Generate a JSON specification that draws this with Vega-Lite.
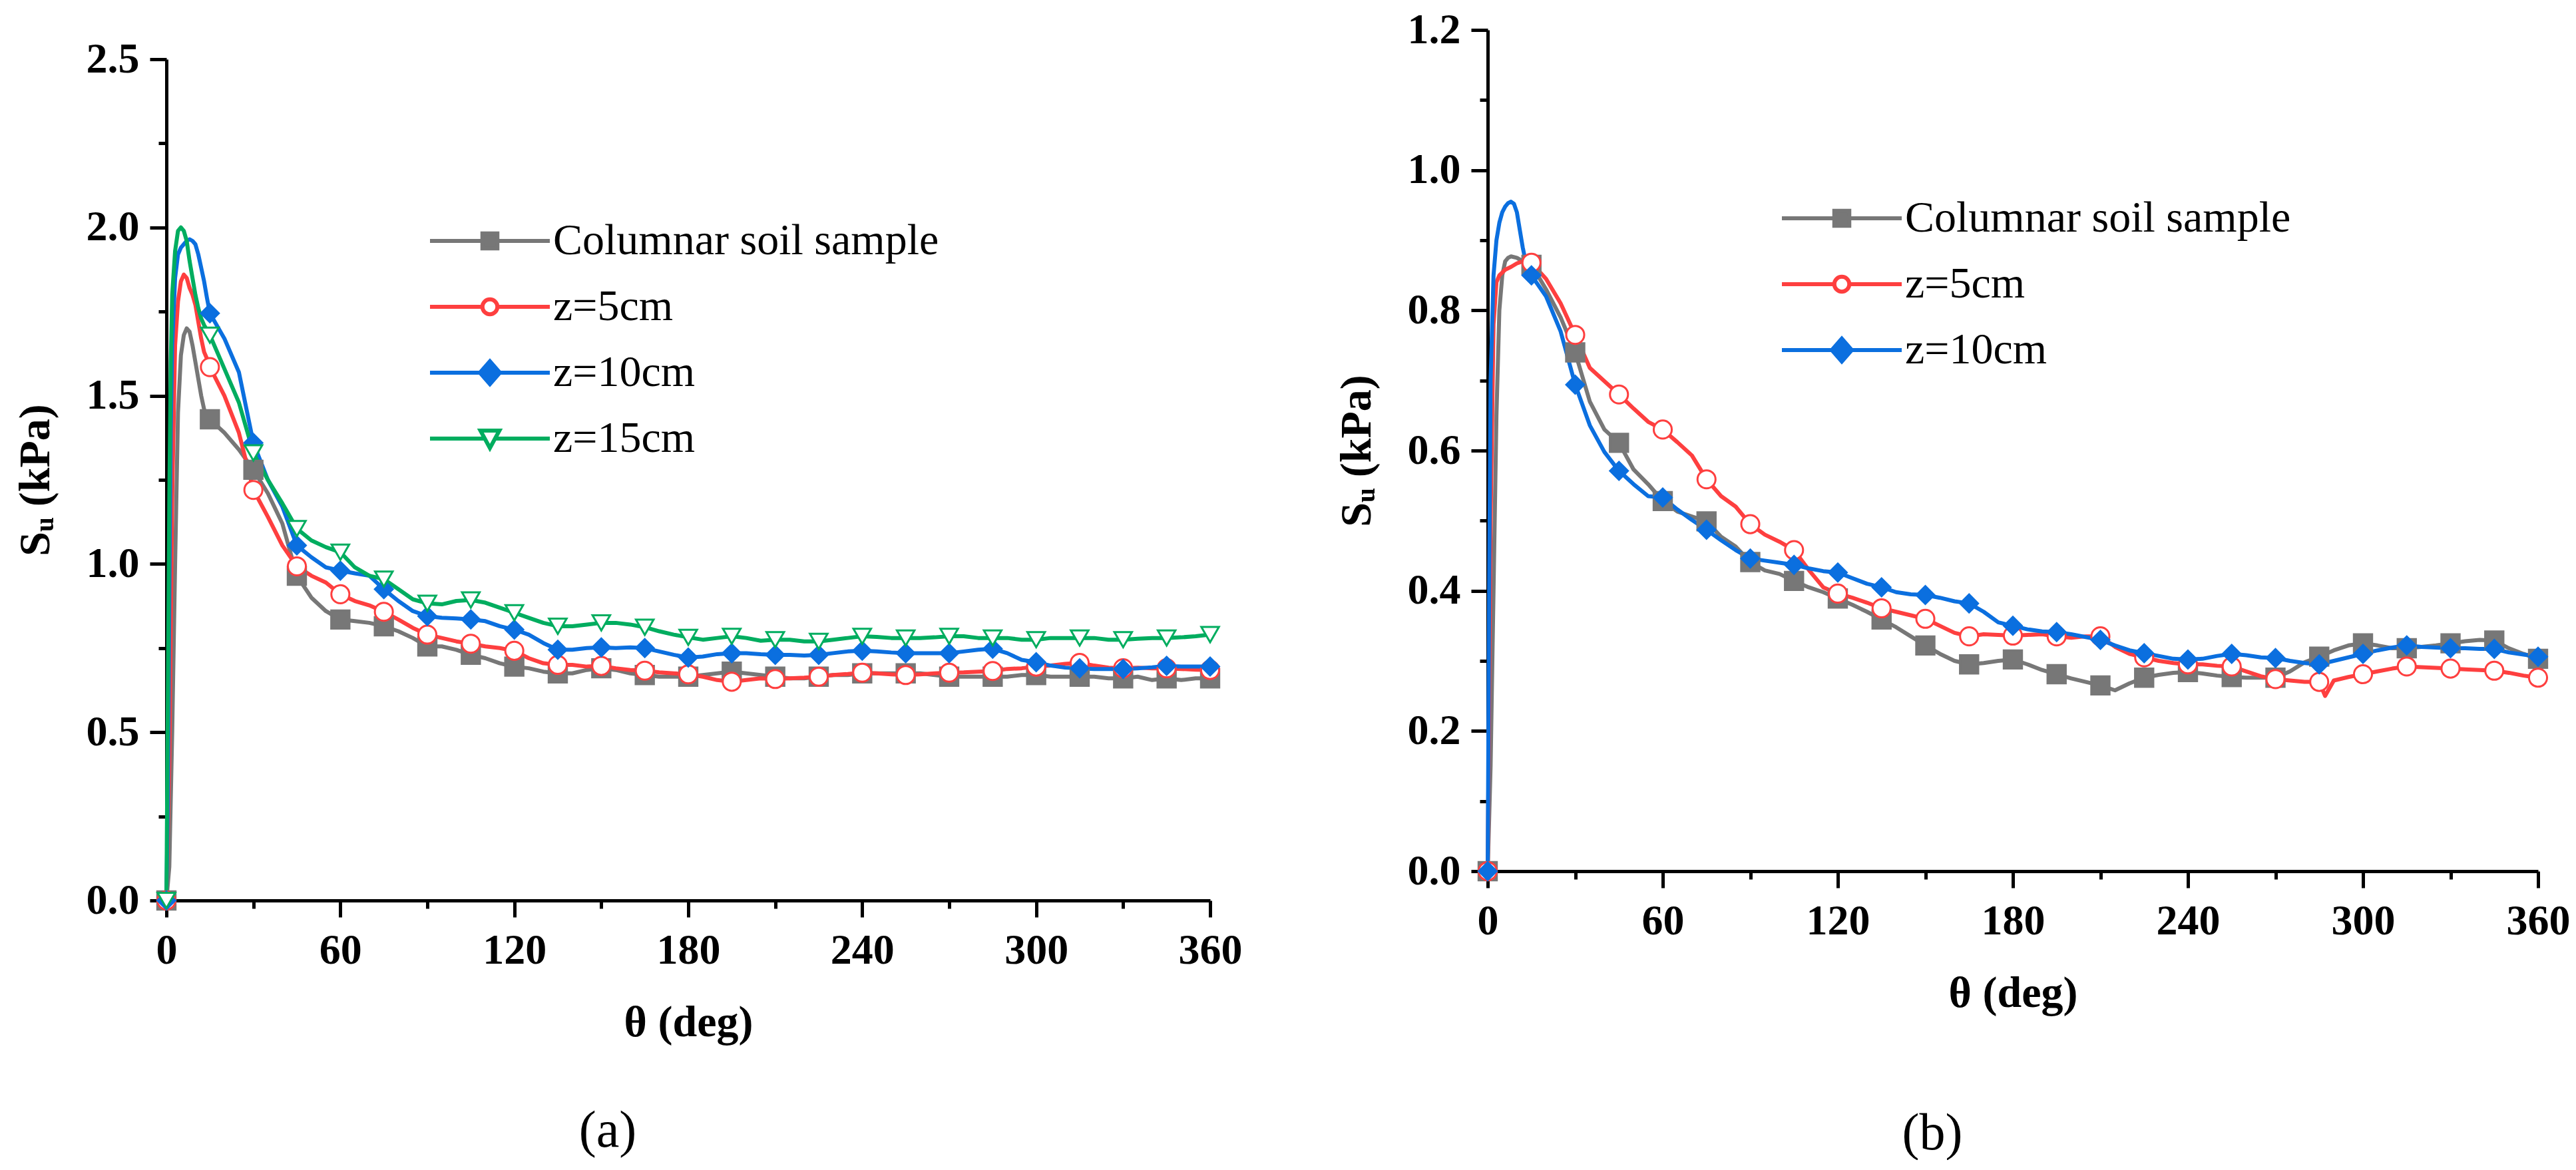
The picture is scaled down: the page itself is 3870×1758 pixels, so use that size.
{
  "$schema": "https://vega.github.io/schema/vega-lite/v6.json",
  "background": "white",
  "padding": {"left": 20, "top": 13, "right": 0, "bottom": 0},
  "spacing": 139,
  "config": {
    "font": "Liberation Serif",
    "view": {"stroke": null},
    "axis": {
      "grid": false,
      "domainColor": "black",
      "domainWidth": 5,
      "tickColor": "black",
      "tickWidth": 5,
      "labelFont": "Liberation Serif",
      "labelFontSize": 64,
      "labelFontWeight": "bold",
      "labelColor": "black",
      "labelFlush": false,
      "labelOverlap": false,
      "titleFont": "Liberation Serif",
      "titleFontSize": 66,
      "titleFontWeight": "bold",
      "titleColor": "black"
    },
    "legend": {
      "orient": "none",
      "direction": "vertical",
      "title": null,
      "labelFont": "Liberation Serif",
      "labelFontSize": 66,
      "labelFontWeight": "normal",
      "labelColor": "black",
      "labelLimit": 1200,
      "symbolSize": 900,
      "symbolStrokeWidth": 6,
      "labelOffset": 62,
      "rowPadding": 33,
      "padding": 0
    }
  },
  "datasets": {
    "curvesA": [
      {"sample": "Columnar soil sample", "theta": 0, "su": 0},
      {"sample": "Columnar soil sample", "theta": 1, "su": 0.1},
      {"sample": "Columnar soil sample", "theta": 2, "su": 0.5},
      {"sample": "Columnar soil sample", "theta": 3, "su": 1.0},
      {"sample": "Columnar soil sample", "theta": 4, "su": 1.45},
      {"sample": "Columnar soil sample", "theta": 5, "su": 1.62},
      {"sample": "Columnar soil sample", "theta": 6, "su": 1.68},
      {"sample": "Columnar soil sample", "theta": 7, "su": 1.70},
      {"sample": "Columnar soil sample", "theta": 8, "su": 1.69},
      {"sample": "Columnar soil sample", "theta": 9, "su": 1.65},
      {"sample": "Columnar soil sample", "theta": 10, "su": 1.60},
      {"sample": "Columnar soil sample", "theta": 11, "su": 1.55},
      {"sample": "Columnar soil sample", "theta": 12, "su": 1.50},
      {"sample": "Columnar soil sample", "theta": 13, "su": 1.46},
      {"sample": "Columnar soil sample", "theta": 14, "su": 1.44},
      {"sample": "Columnar soil sample", "theta": 15, "su": 1.43},
      {"sample": "Columnar soil sample", "theta": 20, "su": 1.39},
      {"sample": "Columnar soil sample", "theta": 25, "su": 1.34},
      {"sample": "Columnar soil sample", "theta": 30, "su": 1.28},
      {"sample": "Columnar soil sample", "theta": 35, "su": 1.21},
      {"sample": "Columnar soil sample", "theta": 40, "su": 1.12},
      {"sample": "Columnar soil sample", "theta": 45, "su": 0.965},
      {"sample": "Columnar soil sample", "theta": 50, "su": 0.9},
      {"sample": "Columnar soil sample", "theta": 55, "su": 0.86},
      {"sample": "Columnar soil sample", "theta": 60, "su": 0.835},
      {"sample": "Columnar soil sample", "theta": 65, "su": 0.83},
      {"sample": "Columnar soil sample", "theta": 70, "su": 0.825},
      {"sample": "Columnar soil sample", "theta": 75, "su": 0.815},
      {"sample": "Columnar soil sample", "theta": 80, "su": 0.8},
      {"sample": "Columnar soil sample", "theta": 85, "su": 0.78},
      {"sample": "Columnar soil sample", "theta": 90, "su": 0.755},
      {"sample": "Columnar soil sample", "theta": 95, "su": 0.755},
      {"sample": "Columnar soil sample", "theta": 100, "su": 0.745},
      {"sample": "Columnar soil sample", "theta": 105, "su": 0.73},
      {"sample": "Columnar soil sample", "theta": 110, "su": 0.72},
      {"sample": "Columnar soil sample", "theta": 115, "su": 0.705},
      {"sample": "Columnar soil sample", "theta": 120, "su": 0.695},
      {"sample": "Columnar soil sample", "theta": 125, "su": 0.69},
      {"sample": "Columnar soil sample", "theta": 130, "su": 0.68},
      {"sample": "Columnar soil sample", "theta": 135, "su": 0.675},
      {"sample": "Columnar soil sample", "theta": 140, "su": 0.675},
      {"sample": "Columnar soil sample", "theta": 145, "su": 0.685},
      {"sample": "Columnar soil sample", "theta": 150, "su": 0.69},
      {"sample": "Columnar soil sample", "theta": 155, "su": 0.685},
      {"sample": "Columnar soil sample", "theta": 160, "su": 0.675},
      {"sample": "Columnar soil sample", "theta": 165, "su": 0.67},
      {"sample": "Columnar soil sample", "theta": 170, "su": 0.665},
      {"sample": "Columnar soil sample", "theta": 175, "su": 0.665},
      {"sample": "Columnar soil sample", "theta": 180, "su": 0.665},
      {"sample": "Columnar soil sample", "theta": 185, "su": 0.67},
      {"sample": "Columnar soil sample", "theta": 190, "su": 0.675},
      {"sample": "Columnar soil sample", "theta": 195, "su": 0.68},
      {"sample": "Columnar soil sample", "theta": 200, "su": 0.675},
      {"sample": "Columnar soil sample", "theta": 205, "su": 0.67},
      {"sample": "Columnar soil sample", "theta": 210, "su": 0.665},
      {"sample": "Columnar soil sample", "theta": 215, "su": 0.66},
      {"sample": "Columnar soil sample", "theta": 220, "su": 0.66},
      {"sample": "Columnar soil sample", "theta": 225, "su": 0.665},
      {"sample": "Columnar soil sample", "theta": 230, "su": 0.67},
      {"sample": "Columnar soil sample", "theta": 235, "su": 0.67},
      {"sample": "Columnar soil sample", "theta": 240, "su": 0.675},
      {"sample": "Columnar soil sample", "theta": 245, "su": 0.675},
      {"sample": "Columnar soil sample", "theta": 250, "su": 0.675},
      {"sample": "Columnar soil sample", "theta": 255, "su": 0.675},
      {"sample": "Columnar soil sample", "theta": 260, "su": 0.675},
      {"sample": "Columnar soil sample", "theta": 265, "su": 0.67},
      {"sample": "Columnar soil sample", "theta": 270, "su": 0.665},
      {"sample": "Columnar soil sample", "theta": 275, "su": 0.665},
      {"sample": "Columnar soil sample", "theta": 280, "su": 0.665},
      {"sample": "Columnar soil sample", "theta": 285, "su": 0.665},
      {"sample": "Columnar soil sample", "theta": 290, "su": 0.665},
      {"sample": "Columnar soil sample", "theta": 295, "su": 0.67},
      {"sample": "Columnar soil sample", "theta": 300, "su": 0.67},
      {"sample": "Columnar soil sample", "theta": 305, "su": 0.665},
      {"sample": "Columnar soil sample", "theta": 310, "su": 0.665},
      {"sample": "Columnar soil sample", "theta": 315, "su": 0.665},
      {"sample": "Columnar soil sample", "theta": 320, "su": 0.665},
      {"sample": "Columnar soil sample", "theta": 325, "su": 0.66},
      {"sample": "Columnar soil sample", "theta": 330, "su": 0.66},
      {"sample": "Columnar soil sample", "theta": 335, "su": 0.665},
      {"sample": "Columnar soil sample", "theta": 340, "su": 0.655},
      {"sample": "Columnar soil sample", "theta": 345, "su": 0.66},
      {"sample": "Columnar soil sample", "theta": 350, "su": 0.655},
      {"sample": "Columnar soil sample", "theta": 355, "su": 0.66},
      {"sample": "Columnar soil sample", "theta": 360, "su": 0.66},
      {"sample": "z=5cm", "theta": 0, "su": 0},
      {"sample": "z=5cm", "theta": 1, "su": 0.4},
      {"sample": "z=5cm", "theta": 2, "su": 1.2},
      {"sample": "z=5cm", "theta": 3, "su": 1.65},
      {"sample": "z=5cm", "theta": 4, "su": 1.78},
      {"sample": "z=5cm", "theta": 5, "su": 1.84},
      {"sample": "z=5cm", "theta": 6, "su": 1.86},
      {"sample": "z=5cm", "theta": 7, "su": 1.85},
      {"sample": "z=5cm", "theta": 8, "su": 1.82},
      {"sample": "z=5cm", "theta": 9, "su": 1.8},
      {"sample": "z=5cm", "theta": 10, "su": 1.77},
      {"sample": "z=5cm", "theta": 11, "su": 1.72},
      {"sample": "z=5cm", "theta": 12, "su": 1.67},
      {"sample": "z=5cm", "theta": 13, "su": 1.63},
      {"sample": "z=5cm", "theta": 14, "su": 1.61},
      {"sample": "z=5cm", "theta": 15, "su": 1.585},
      {"sample": "z=5cm", "theta": 20, "su": 1.5},
      {"sample": "z=5cm", "theta": 25, "su": 1.39},
      {"sample": "z=5cm", "theta": 30, "su": 1.22},
      {"sample": "z=5cm", "theta": 35, "su": 1.14},
      {"sample": "z=5cm", "theta": 40, "su": 1.055},
      {"sample": "z=5cm", "theta": 45, "su": 0.993},
      {"sample": "z=5cm", "theta": 50, "su": 0.965},
      {"sample": "z=5cm", "theta": 55, "su": 0.945},
      {"sample": "z=5cm", "theta": 60, "su": 0.91},
      {"sample": "z=5cm", "theta": 65, "su": 0.89},
      {"sample": "z=5cm", "theta": 70, "su": 0.877},
      {"sample": "z=5cm", "theta": 75, "su": 0.858},
      {"sample": "z=5cm", "theta": 80, "su": 0.835},
      {"sample": "z=5cm", "theta": 85, "su": 0.81},
      {"sample": "z=5cm", "theta": 90, "su": 0.79},
      {"sample": "z=5cm", "theta": 95, "su": 0.78},
      {"sample": "z=5cm", "theta": 100, "su": 0.77},
      {"sample": "z=5cm", "theta": 105, "su": 0.763},
      {"sample": "z=5cm", "theta": 110, "su": 0.755},
      {"sample": "z=5cm", "theta": 115, "su": 0.75},
      {"sample": "z=5cm", "theta": 120, "su": 0.742},
      {"sample": "z=5cm", "theta": 125, "su": 0.72},
      {"sample": "z=5cm", "theta": 130, "su": 0.705},
      {"sample": "z=5cm", "theta": 135, "su": 0.7},
      {"sample": "z=5cm", "theta": 140, "su": 0.7},
      {"sample": "z=5cm", "theta": 145, "su": 0.695},
      {"sample": "z=5cm", "theta": 150, "su": 0.697},
      {"sample": "z=5cm", "theta": 155, "su": 0.69},
      {"sample": "z=5cm", "theta": 160, "su": 0.685},
      {"sample": "z=5cm", "theta": 165, "su": 0.683},
      {"sample": "z=5cm", "theta": 170, "su": 0.678},
      {"sample": "z=5cm", "theta": 175, "su": 0.675},
      {"sample": "z=5cm", "theta": 180, "su": 0.672},
      {"sample": "z=5cm", "theta": 185, "su": 0.665},
      {"sample": "z=5cm", "theta": 190, "su": 0.655},
      {"sample": "z=5cm", "theta": 195, "su": 0.65},
      {"sample": "z=5cm", "theta": 200, "su": 0.655},
      {"sample": "z=5cm", "theta": 205, "su": 0.66},
      {"sample": "z=5cm", "theta": 210, "su": 0.658},
      {"sample": "z=5cm", "theta": 215, "su": 0.66},
      {"sample": "z=5cm", "theta": 220, "su": 0.662},
      {"sample": "z=5cm", "theta": 225, "su": 0.665},
      {"sample": "z=5cm", "theta": 230, "su": 0.67},
      {"sample": "z=5cm", "theta": 235, "su": 0.673},
      {"sample": "z=5cm", "theta": 240, "su": 0.677},
      {"sample": "z=5cm", "theta": 245, "su": 0.675},
      {"sample": "z=5cm", "theta": 250, "su": 0.672},
      {"sample": "z=5cm", "theta": 255, "su": 0.67},
      {"sample": "z=5cm", "theta": 260, "su": 0.672},
      {"sample": "z=5cm", "theta": 265, "su": 0.675},
      {"sample": "z=5cm", "theta": 270, "su": 0.677},
      {"sample": "z=5cm", "theta": 275, "su": 0.678},
      {"sample": "z=5cm", "theta": 280, "su": 0.68},
      {"sample": "z=5cm", "theta": 285, "su": 0.682},
      {"sample": "z=5cm", "theta": 290, "su": 0.688},
      {"sample": "z=5cm", "theta": 295, "su": 0.69},
      {"sample": "z=5cm", "theta": 300, "su": 0.695},
      {"sample": "z=5cm", "theta": 305, "su": 0.698},
      {"sample": "z=5cm", "theta": 310, "su": 0.703},
      {"sample": "z=5cm", "theta": 315, "su": 0.706},
      {"sample": "z=5cm", "theta": 320, "su": 0.698},
      {"sample": "z=5cm", "theta": 325, "su": 0.692},
      {"sample": "z=5cm", "theta": 330, "su": 0.69},
      {"sample": "z=5cm", "theta": 335, "su": 0.692},
      {"sample": "z=5cm", "theta": 340, "su": 0.69},
      {"sample": "z=5cm", "theta": 345, "su": 0.69},
      {"sample": "z=5cm", "theta": 350, "su": 0.688},
      {"sample": "z=5cm", "theta": 355, "su": 0.686},
      {"sample": "z=5cm", "theta": 360, "su": 0.685},
      {"sample": "z=10cm", "theta": 0, "su": 0},
      {"sample": "z=10cm", "theta": 0.5, "su": 0.3},
      {"sample": "z=10cm", "theta": 1, "su": 0.9},
      {"sample": "z=10cm", "theta": 1.5, "su": 1.4},
      {"sample": "z=10cm", "theta": 2, "su": 1.65},
      {"sample": "z=10cm", "theta": 3, "su": 1.85},
      {"sample": "z=10cm", "theta": 4, "su": 1.92},
      {"sample": "z=10cm", "theta": 5, "su": 1.94},
      {"sample": "z=10cm", "theta": 6, "su": 1.95},
      {"sample": "z=10cm", "theta": 7, "su": 1.96},
      {"sample": "z=10cm", "theta": 8, "su": 1.965},
      {"sample": "z=10cm", "theta": 9, "su": 1.96},
      {"sample": "z=10cm", "theta": 10, "su": 1.95},
      {"sample": "z=10cm", "theta": 11, "su": 1.92},
      {"sample": "z=10cm", "theta": 12, "su": 1.88},
      {"sample": "z=10cm", "theta": 13, "su": 1.84},
      {"sample": "z=10cm", "theta": 14, "su": 1.79},
      {"sample": "z=10cm", "theta": 15, "su": 1.745},
      {"sample": "z=10cm", "theta": 20, "su": 1.67},
      {"sample": "z=10cm", "theta": 25, "su": 1.57},
      {"sample": "z=10cm", "theta": 30, "su": 1.36},
      {"sample": "z=10cm", "theta": 35, "su": 1.25},
      {"sample": "z=10cm", "theta": 40, "su": 1.17},
      {"sample": "z=10cm", "theta": 45, "su": 1.055},
      {"sample": "z=10cm", "theta": 50, "su": 1.02},
      {"sample": "z=10cm", "theta": 55, "su": 0.99},
      {"sample": "z=10cm", "theta": 60, "su": 0.98},
      {"sample": "z=10cm", "theta": 65, "su": 0.972},
      {"sample": "z=10cm", "theta": 70, "su": 0.965},
      {"sample": "z=10cm", "theta": 75, "su": 0.925},
      {"sample": "z=10cm", "theta": 80, "su": 0.89},
      {"sample": "z=10cm", "theta": 85, "su": 0.86},
      {"sample": "z=10cm", "theta": 90, "su": 0.845},
      {"sample": "z=10cm", "theta": 95, "su": 0.84},
      {"sample": "z=10cm", "theta": 100, "su": 0.838},
      {"sample": "z=10cm", "theta": 105, "su": 0.835},
      {"sample": "z=10cm", "theta": 110, "su": 0.83},
      {"sample": "z=10cm", "theta": 115, "su": 0.815},
      {"sample": "z=10cm", "theta": 120, "su": 0.805},
      {"sample": "z=10cm", "theta": 125, "su": 0.79},
      {"sample": "z=10cm", "theta": 130, "su": 0.765},
      {"sample": "z=10cm", "theta": 135, "su": 0.745},
      {"sample": "z=10cm", "theta": 140, "su": 0.745},
      {"sample": "z=10cm", "theta": 145, "su": 0.75},
      {"sample": "z=10cm", "theta": 150, "su": 0.752},
      {"sample": "z=10cm", "theta": 155, "su": 0.75},
      {"sample": "z=10cm", "theta": 160, "su": 0.752},
      {"sample": "z=10cm", "theta": 165, "su": 0.75},
      {"sample": "z=10cm", "theta": 170, "su": 0.74},
      {"sample": "z=10cm", "theta": 175, "su": 0.73},
      {"sample": "z=10cm", "theta": 180, "su": 0.722},
      {"sample": "z=10cm", "theta": 185, "su": 0.725},
      {"sample": "z=10cm", "theta": 190, "su": 0.732},
      {"sample": "z=10cm", "theta": 195, "su": 0.735},
      {"sample": "z=10cm", "theta": 200, "su": 0.735},
      {"sample": "z=10cm", "theta": 205, "su": 0.732},
      {"sample": "z=10cm", "theta": 210, "su": 0.73},
      {"sample": "z=10cm", "theta": 215, "su": 0.73},
      {"sample": "z=10cm", "theta": 220, "su": 0.728},
      {"sample": "z=10cm", "theta": 225, "su": 0.73},
      {"sample": "z=10cm", "theta": 230, "su": 0.735},
      {"sample": "z=10cm", "theta": 235, "su": 0.74},
      {"sample": "z=10cm", "theta": 240, "su": 0.742},
      {"sample": "z=10cm", "theta": 245, "su": 0.74},
      {"sample": "z=10cm", "theta": 250, "su": 0.737},
      {"sample": "z=10cm", "theta": 255, "su": 0.735},
      {"sample": "z=10cm", "theta": 260, "su": 0.735},
      {"sample": "z=10cm", "theta": 265, "su": 0.735},
      {"sample": "z=10cm", "theta": 270, "su": 0.735},
      {"sample": "z=10cm", "theta": 275, "su": 0.74},
      {"sample": "z=10cm", "theta": 280, "su": 0.745},
      {"sample": "z=10cm", "theta": 285, "su": 0.748},
      {"sample": "z=10cm", "theta": 290, "su": 0.735},
      {"sample": "z=10cm", "theta": 295, "su": 0.715},
      {"sample": "z=10cm", "theta": 300, "su": 0.708},
      {"sample": "z=10cm", "theta": 305, "su": 0.698},
      {"sample": "z=10cm", "theta": 310, "su": 0.692},
      {"sample": "z=10cm", "theta": 315, "su": 0.69},
      {"sample": "z=10cm", "theta": 320, "su": 0.688},
      {"sample": "z=10cm", "theta": 325, "su": 0.688},
      {"sample": "z=10cm", "theta": 330, "su": 0.688},
      {"sample": "z=10cm", "theta": 335, "su": 0.69},
      {"sample": "z=10cm", "theta": 340, "su": 0.693},
      {"sample": "z=10cm", "theta": 345, "su": 0.697},
      {"sample": "z=10cm", "theta": 350, "su": 0.695},
      {"sample": "z=10cm", "theta": 355, "su": 0.695},
      {"sample": "z=10cm", "theta": 360, "su": 0.695},
      {"sample": "z=15cm", "theta": 0, "su": 0},
      {"sample": "z=15cm", "theta": 0.5, "su": 0.6},
      {"sample": "z=15cm", "theta": 1, "su": 1.2},
      {"sample": "z=15cm", "theta": 1.5, "su": 1.6},
      {"sample": "z=15cm", "theta": 2, "su": 1.8},
      {"sample": "z=15cm", "theta": 3, "su": 1.93},
      {"sample": "z=15cm", "theta": 4, "su": 1.99},
      {"sample": "z=15cm", "theta": 5, "su": 2.0},
      {"sample": "z=15cm", "theta": 6, "su": 1.99},
      {"sample": "z=15cm", "theta": 7, "su": 1.96},
      {"sample": "z=15cm", "theta": 8, "su": 1.9},
      {"sample": "z=15cm", "theta": 9, "su": 1.85},
      {"sample": "z=15cm", "theta": 10, "su": 1.8},
      {"sample": "z=15cm", "theta": 11, "su": 1.76},
      {"sample": "z=15cm", "theta": 12, "su": 1.73},
      {"sample": "z=15cm", "theta": 13, "su": 1.71},
      {"sample": "z=15cm", "theta": 14, "su": 1.695},
      {"sample": "z=15cm", "theta": 15, "su": 1.68},
      {"sample": "z=15cm", "theta": 20, "su": 1.58},
      {"sample": "z=15cm", "theta": 25, "su": 1.48},
      {"sample": "z=15cm", "theta": 30, "su": 1.33},
      {"sample": "z=15cm", "theta": 35, "su": 1.25},
      {"sample": "z=15cm", "theta": 40, "su": 1.18},
      {"sample": "z=15cm", "theta": 45, "su": 1.105},
      {"sample": "z=15cm", "theta": 50, "su": 1.07},
      {"sample": "z=15cm", "theta": 55, "su": 1.05},
      {"sample": "z=15cm", "theta": 60, "su": 1.035},
      {"sample": "z=15cm", "theta": 65, "su": 0.99},
      {"sample": "z=15cm", "theta": 70, "su": 0.965},
      {"sample": "z=15cm", "theta": 75, "su": 0.955},
      {"sample": "z=15cm", "theta": 80, "su": 0.925},
      {"sample": "z=15cm", "theta": 85, "su": 0.895},
      {"sample": "z=15cm", "theta": 90, "su": 0.883},
      {"sample": "z=15cm", "theta": 95, "su": 0.88},
      {"sample": "z=15cm", "theta": 100, "su": 0.89},
      {"sample": "z=15cm", "theta": 105, "su": 0.893},
      {"sample": "z=15cm", "theta": 110, "su": 0.885},
      {"sample": "z=15cm", "theta": 115, "su": 0.87},
      {"sample": "z=15cm", "theta": 120, "su": 0.855},
      {"sample": "z=15cm", "theta": 125, "su": 0.84},
      {"sample": "z=15cm", "theta": 130, "su": 0.825},
      {"sample": "z=15cm", "theta": 135, "su": 0.815},
      {"sample": "z=15cm", "theta": 140, "su": 0.815},
      {"sample": "z=15cm", "theta": 145, "su": 0.82},
      {"sample": "z=15cm", "theta": 150, "su": 0.825},
      {"sample": "z=15cm", "theta": 155, "su": 0.825},
      {"sample": "z=15cm", "theta": 160, "su": 0.82},
      {"sample": "z=15cm", "theta": 165, "su": 0.812},
      {"sample": "z=15cm", "theta": 170, "su": 0.8},
      {"sample": "z=15cm", "theta": 175, "su": 0.79},
      {"sample": "z=15cm", "theta": 180, "su": 0.782},
      {"sample": "z=15cm", "theta": 185, "su": 0.775},
      {"sample": "z=15cm", "theta": 190, "su": 0.78},
      {"sample": "z=15cm", "theta": 195, "su": 0.785},
      {"sample": "z=15cm", "theta": 200, "su": 0.78},
      {"sample": "z=15cm", "theta": 205, "su": 0.772},
      {"sample": "z=15cm", "theta": 210, "su": 0.775},
      {"sample": "z=15cm", "theta": 215, "su": 0.775},
      {"sample": "z=15cm", "theta": 220, "su": 0.77},
      {"sample": "z=15cm", "theta": 225, "su": 0.77},
      {"sample": "z=15cm", "theta": 230, "su": 0.775},
      {"sample": "z=15cm", "theta": 235, "su": 0.78},
      {"sample": "z=15cm", "theta": 240, "su": 0.785},
      {"sample": "z=15cm", "theta": 245, "su": 0.783},
      {"sample": "z=15cm", "theta": 250, "su": 0.78},
      {"sample": "z=15cm", "theta": 255, "su": 0.78},
      {"sample": "z=15cm", "theta": 260, "su": 0.78},
      {"sample": "z=15cm", "theta": 265, "su": 0.782},
      {"sample": "z=15cm", "theta": 270, "su": 0.785},
      {"sample": "z=15cm", "theta": 275, "su": 0.785},
      {"sample": "z=15cm", "theta": 280, "su": 0.78},
      {"sample": "z=15cm", "theta": 285, "su": 0.78},
      {"sample": "z=15cm", "theta": 290, "su": 0.78},
      {"sample": "z=15cm", "theta": 295, "su": 0.775},
      {"sample": "z=15cm", "theta": 300, "su": 0.775},
      {"sample": "z=15cm", "theta": 305, "su": 0.78},
      {"sample": "z=15cm", "theta": 310, "su": 0.78},
      {"sample": "z=15cm", "theta": 315, "su": 0.78},
      {"sample": "z=15cm", "theta": 320, "su": 0.78},
      {"sample": "z=15cm", "theta": 325, "su": 0.775},
      {"sample": "z=15cm", "theta": 330, "su": 0.775},
      {"sample": "z=15cm", "theta": 335, "su": 0.778},
      {"sample": "z=15cm", "theta": 340, "su": 0.78},
      {"sample": "z=15cm", "theta": 345, "su": 0.78},
      {"sample": "z=15cm", "theta": 350, "su": 0.782},
      {"sample": "z=15cm", "theta": 355, "su": 0.785},
      {"sample": "z=15cm", "theta": 360, "su": 0.79}
    ],
    "curvesB": [
      {"sample": "Columnar soil sample", "theta": 0, "su": 0},
      {"sample": "Columnar soil sample", "theta": 1, "su": 0.15},
      {"sample": "Columnar soil sample", "theta": 2, "su": 0.4},
      {"sample": "Columnar soil sample", "theta": 3, "su": 0.65},
      {"sample": "Columnar soil sample", "theta": 4, "su": 0.8},
      {"sample": "Columnar soil sample", "theta": 5, "su": 0.85},
      {"sample": "Columnar soil sample", "theta": 6, "su": 0.87},
      {"sample": "Columnar soil sample", "theta": 7, "su": 0.875},
      {"sample": "Columnar soil sample", "theta": 8, "su": 0.877},
      {"sample": "Columnar soil sample", "theta": 10, "su": 0.875},
      {"sample": "Columnar soil sample", "theta": 12, "su": 0.87},
      {"sample": "Columnar soil sample", "theta": 15, "su": 0.865},
      {"sample": "Columnar soil sample", "theta": 20, "su": 0.83},
      {"sample": "Columnar soil sample", "theta": 25, "su": 0.79},
      {"sample": "Columnar soil sample", "theta": 30, "su": 0.74},
      {"sample": "Columnar soil sample", "theta": 35, "su": 0.67},
      {"sample": "Columnar soil sample", "theta": 40, "su": 0.63},
      {"sample": "Columnar soil sample", "theta": 45, "su": 0.611},
      {"sample": "Columnar soil sample", "theta": 50, "su": 0.573},
      {"sample": "Columnar soil sample", "theta": 55, "su": 0.552},
      {"sample": "Columnar soil sample", "theta": 60, "su": 0.528},
      {"sample": "Columnar soil sample", "theta": 65, "su": 0.513},
      {"sample": "Columnar soil sample", "theta": 70, "su": 0.506},
      {"sample": "Columnar soil sample", "theta": 75, "su": 0.499},
      {"sample": "Columnar soil sample", "theta": 80, "su": 0.477},
      {"sample": "Columnar soil sample", "theta": 85, "su": 0.463},
      {"sample": "Columnar soil sample", "theta": 90, "su": 0.441},
      {"sample": "Columnar soil sample", "theta": 95, "su": 0.429},
      {"sample": "Columnar soil sample", "theta": 100, "su": 0.424},
      {"sample": "Columnar soil sample", "theta": 105, "su": 0.414},
      {"sample": "Columnar soil sample", "theta": 110, "su": 0.405},
      {"sample": "Columnar soil sample", "theta": 115, "su": 0.398},
      {"sample": "Columnar soil sample", "theta": 120, "su": 0.389},
      {"sample": "Columnar soil sample", "theta": 125, "su": 0.38},
      {"sample": "Columnar soil sample", "theta": 130, "su": 0.37},
      {"sample": "Columnar soil sample", "theta": 135, "su": 0.359},
      {"sample": "Columnar soil sample", "theta": 140, "su": 0.348},
      {"sample": "Columnar soil sample", "theta": 145, "su": 0.335},
      {"sample": "Columnar soil sample", "theta": 150, "su": 0.322},
      {"sample": "Columnar soil sample", "theta": 155, "su": 0.31},
      {"sample": "Columnar soil sample", "theta": 160, "su": 0.3},
      {"sample": "Columnar soil sample", "theta": 165, "su": 0.295},
      {"sample": "Columnar soil sample", "theta": 170, "su": 0.297},
      {"sample": "Columnar soil sample", "theta": 175, "su": 0.3},
      {"sample": "Columnar soil sample", "theta": 180, "su": 0.302},
      {"sample": "Columnar soil sample", "theta": 185, "su": 0.295},
      {"sample": "Columnar soil sample", "theta": 190, "su": 0.287},
      {"sample": "Columnar soil sample", "theta": 195, "su": 0.281},
      {"sample": "Columnar soil sample", "theta": 200, "su": 0.275},
      {"sample": "Columnar soil sample", "theta": 205, "su": 0.27},
      {"sample": "Columnar soil sample", "theta": 210, "su": 0.265},
      {"sample": "Columnar soil sample", "theta": 215, "su": 0.258},
      {"sample": "Columnar soil sample", "theta": 220, "su": 0.268},
      {"sample": "Columnar soil sample", "theta": 225, "su": 0.276},
      {"sample": "Columnar soil sample", "theta": 230, "su": 0.28},
      {"sample": "Columnar soil sample", "theta": 235, "su": 0.283},
      {"sample": "Columnar soil sample", "theta": 240, "su": 0.284},
      {"sample": "Columnar soil sample", "theta": 245, "su": 0.282},
      {"sample": "Columnar soil sample", "theta": 250, "su": 0.279},
      {"sample": "Columnar soil sample", "theta": 255, "su": 0.277},
      {"sample": "Columnar soil sample", "theta": 260, "su": 0.276},
      {"sample": "Columnar soil sample", "theta": 265, "su": 0.276},
      {"sample": "Columnar soil sample", "theta": 270, "su": 0.276},
      {"sample": "Columnar soil sample", "theta": 275, "su": 0.285},
      {"sample": "Columnar soil sample", "theta": 280, "su": 0.298},
      {"sample": "Columnar soil sample", "theta": 285, "su": 0.306},
      {"sample": "Columnar soil sample", "theta": 290, "su": 0.315},
      {"sample": "Columnar soil sample", "theta": 295, "su": 0.322},
      {"sample": "Columnar soil sample", "theta": 300, "su": 0.325},
      {"sample": "Columnar soil sample", "theta": 305, "su": 0.322},
      {"sample": "Columnar soil sample", "theta": 310, "su": 0.318},
      {"sample": "Columnar soil sample", "theta": 315, "su": 0.318},
      {"sample": "Columnar soil sample", "theta": 320, "su": 0.32},
      {"sample": "Columnar soil sample", "theta": 325, "su": 0.322},
      {"sample": "Columnar soil sample", "theta": 330, "su": 0.325},
      {"sample": "Columnar soil sample", "theta": 335, "su": 0.328},
      {"sample": "Columnar soil sample", "theta": 340, "su": 0.33},
      {"sample": "Columnar soil sample", "theta": 345, "su": 0.329},
      {"sample": "Columnar soil sample", "theta": 350, "su": 0.318},
      {"sample": "Columnar soil sample", "theta": 355, "su": 0.31},
      {"sample": "Columnar soil sample", "theta": 360, "su": 0.303},
      {"sample": "z=5cm", "theta": 0, "su": 0},
      {"sample": "z=5cm", "theta": 1, "su": 0.5},
      {"sample": "z=5cm", "theta": 2, "su": 0.78},
      {"sample": "z=5cm", "theta": 3, "su": 0.84},
      {"sample": "z=5cm", "theta": 4, "su": 0.85},
      {"sample": "z=5cm", "theta": 6, "su": 0.858},
      {"sample": "z=5cm", "theta": 8, "su": 0.862},
      {"sample": "z=5cm", "theta": 10, "su": 0.867},
      {"sample": "z=5cm", "theta": 12, "su": 0.87},
      {"sample": "z=5cm", "theta": 15, "su": 0.868},
      {"sample": "z=5cm", "theta": 20, "su": 0.845},
      {"sample": "z=5cm", "theta": 25, "su": 0.81},
      {"sample": "z=5cm", "theta": 30, "su": 0.765},
      {"sample": "z=5cm", "theta": 35, "su": 0.718},
      {"sample": "z=5cm", "theta": 40, "su": 0.699},
      {"sample": "z=5cm", "theta": 45, "su": 0.68},
      {"sample": "z=5cm", "theta": 50, "su": 0.66},
      {"sample": "z=5cm", "theta": 55, "su": 0.641},
      {"sample": "z=5cm", "theta": 60, "su": 0.63},
      {"sample": "z=5cm", "theta": 65, "su": 0.612},
      {"sample": "z=5cm", "theta": 70, "su": 0.593},
      {"sample": "z=5cm", "theta": 75, "su": 0.559},
      {"sample": "z=5cm", "theta": 80, "su": 0.535},
      {"sample": "z=5cm", "theta": 85, "su": 0.52},
      {"sample": "z=5cm", "theta": 90, "su": 0.495},
      {"sample": "z=5cm", "theta": 95, "su": 0.48},
      {"sample": "z=5cm", "theta": 100, "su": 0.47},
      {"sample": "z=5cm", "theta": 105, "su": 0.458},
      {"sample": "z=5cm", "theta": 110, "su": 0.43},
      {"sample": "z=5cm", "theta": 115, "su": 0.405},
      {"sample": "z=5cm", "theta": 120, "su": 0.396},
      {"sample": "z=5cm", "theta": 125, "su": 0.39},
      {"sample": "z=5cm", "theta": 130, "su": 0.383},
      {"sample": "z=5cm", "theta": 135, "su": 0.375},
      {"sample": "z=5cm", "theta": 140, "su": 0.37},
      {"sample": "z=5cm", "theta": 145, "su": 0.365},
      {"sample": "z=5cm", "theta": 150, "su": 0.36},
      {"sample": "z=5cm", "theta": 155, "su": 0.35},
      {"sample": "z=5cm", "theta": 160, "su": 0.34},
      {"sample": "z=5cm", "theta": 165, "su": 0.335},
      {"sample": "z=5cm", "theta": 170, "su": 0.338},
      {"sample": "z=5cm", "theta": 175, "su": 0.337},
      {"sample": "z=5cm", "theta": 180, "su": 0.336},
      {"sample": "z=5cm", "theta": 185, "su": 0.337},
      {"sample": "z=5cm", "theta": 190, "su": 0.338},
      {"sample": "z=5cm", "theta": 195, "su": 0.335},
      {"sample": "z=5cm", "theta": 200, "su": 0.333},
      {"sample": "z=5cm", "theta": 205, "su": 0.335},
      {"sample": "z=5cm", "theta": 210, "su": 0.335},
      {"sample": "z=5cm", "theta": 215, "su": 0.32},
      {"sample": "z=5cm", "theta": 220, "su": 0.31},
      {"sample": "z=5cm", "theta": 225, "su": 0.305},
      {"sample": "z=5cm", "theta": 230, "su": 0.3},
      {"sample": "z=5cm", "theta": 235, "su": 0.297},
      {"sample": "z=5cm", "theta": 240, "su": 0.295},
      {"sample": "z=5cm", "theta": 245, "su": 0.295},
      {"sample": "z=5cm", "theta": 250, "su": 0.293},
      {"sample": "z=5cm", "theta": 255, "su": 0.292},
      {"sample": "z=5cm", "theta": 260, "su": 0.285},
      {"sample": "z=5cm", "theta": 265, "su": 0.278},
      {"sample": "z=5cm", "theta": 270, "su": 0.274},
      {"sample": "z=5cm", "theta": 275, "su": 0.272},
      {"sample": "z=5cm", "theta": 280, "su": 0.27},
      {"sample": "z=5cm", "theta": 285, "su": 0.27},
      {"sample": "z=5cm", "theta": 287, "su": 0.25},
      {"sample": "z=5cm", "theta": 290, "su": 0.272},
      {"sample": "z=5cm", "theta": 295, "su": 0.277},
      {"sample": "z=5cm", "theta": 300, "su": 0.281},
      {"sample": "z=5cm", "theta": 305, "su": 0.285},
      {"sample": "z=5cm", "theta": 310, "su": 0.289},
      {"sample": "z=5cm", "theta": 315, "su": 0.292},
      {"sample": "z=5cm", "theta": 320, "su": 0.291},
      {"sample": "z=5cm", "theta": 325, "su": 0.29},
      {"sample": "z=5cm", "theta": 330, "su": 0.289},
      {"sample": "z=5cm", "theta": 335, "su": 0.288},
      {"sample": "z=5cm", "theta": 340, "su": 0.287},
      {"sample": "z=5cm", "theta": 345, "su": 0.286},
      {"sample": "z=5cm", "theta": 350, "su": 0.283},
      {"sample": "z=5cm", "theta": 355, "su": 0.279},
      {"sample": "z=5cm", "theta": 360, "su": 0.276},
      {"sample": "z=10cm", "theta": 0, "su": 0},
      {"sample": "z=10cm", "theta": 0.5, "su": 0.4},
      {"sample": "z=10cm", "theta": 1, "su": 0.7},
      {"sample": "z=10cm", "theta": 2, "su": 0.85},
      {"sample": "z=10cm", "theta": 3, "su": 0.9},
      {"sample": "z=10cm", "theta": 4, "su": 0.925},
      {"sample": "z=10cm", "theta": 5, "su": 0.94},
      {"sample": "z=10cm", "theta": 6, "su": 0.948},
      {"sample": "z=10cm", "theta": 7, "su": 0.953},
      {"sample": "z=10cm", "theta": 8, "su": 0.955},
      {"sample": "z=10cm", "theta": 9, "su": 0.952},
      {"sample": "z=10cm", "theta": 10, "su": 0.94},
      {"sample": "z=10cm", "theta": 11, "su": 0.915},
      {"sample": "z=10cm", "theta": 12, "su": 0.89},
      {"sample": "z=10cm", "theta": 13, "su": 0.87},
      {"sample": "z=10cm", "theta": 14, "su": 0.858},
      {"sample": "z=10cm", "theta": 15, "su": 0.85},
      {"sample": "z=10cm", "theta": 20, "su": 0.82},
      {"sample": "z=10cm", "theta": 25, "su": 0.77},
      {"sample": "z=10cm", "theta": 30, "su": 0.694},
      {"sample": "z=10cm", "theta": 35, "su": 0.636},
      {"sample": "z=10cm", "theta": 40, "su": 0.598},
      {"sample": "z=10cm", "theta": 45, "su": 0.571},
      {"sample": "z=10cm", "theta": 50, "su": 0.552},
      {"sample": "z=10cm", "theta": 55, "su": 0.535},
      {"sample": "z=10cm", "theta": 60, "su": 0.533},
      {"sample": "z=10cm", "theta": 65, "su": 0.516},
      {"sample": "z=10cm", "theta": 70, "su": 0.501},
      {"sample": "z=10cm", "theta": 75, "su": 0.487},
      {"sample": "z=10cm", "theta": 80, "su": 0.472},
      {"sample": "z=10cm", "theta": 85, "su": 0.458},
      {"sample": "z=10cm", "theta": 90, "su": 0.446},
      {"sample": "z=10cm", "theta": 95, "su": 0.443},
      {"sample": "z=10cm", "theta": 100, "su": 0.44},
      {"sample": "z=10cm", "theta": 105, "su": 0.437},
      {"sample": "z=10cm", "theta": 110, "su": 0.432},
      {"sample": "z=10cm", "theta": 115, "su": 0.428},
      {"sample": "z=10cm", "theta": 120, "su": 0.426},
      {"sample": "z=10cm", "theta": 125, "su": 0.418},
      {"sample": "z=10cm", "theta": 130, "su": 0.41},
      {"sample": "z=10cm", "theta": 135, "su": 0.405},
      {"sample": "z=10cm", "theta": 140, "su": 0.398},
      {"sample": "z=10cm", "theta": 145, "su": 0.395},
      {"sample": "z=10cm", "theta": 150, "su": 0.394},
      {"sample": "z=10cm", "theta": 155, "su": 0.39},
      {"sample": "z=10cm", "theta": 160, "su": 0.385},
      {"sample": "z=10cm", "theta": 165, "su": 0.382},
      {"sample": "z=10cm", "theta": 170, "su": 0.37},
      {"sample": "z=10cm", "theta": 175, "su": 0.355},
      {"sample": "z=10cm", "theta": 180, "su": 0.35},
      {"sample": "z=10cm", "theta": 185, "su": 0.345},
      {"sample": "z=10cm", "theta": 190, "su": 0.342},
      {"sample": "z=10cm", "theta": 195, "su": 0.341},
      {"sample": "z=10cm", "theta": 200, "su": 0.338},
      {"sample": "z=10cm", "theta": 205, "su": 0.334},
      {"sample": "z=10cm", "theta": 210, "su": 0.33},
      {"sample": "z=10cm", "theta": 215, "su": 0.322},
      {"sample": "z=10cm", "theta": 220, "su": 0.315},
      {"sample": "z=10cm", "theta": 225, "su": 0.311},
      {"sample": "z=10cm", "theta": 230, "su": 0.307},
      {"sample": "z=10cm", "theta": 235, "su": 0.303},
      {"sample": "z=10cm", "theta": 240, "su": 0.302},
      {"sample": "z=10cm", "theta": 245, "su": 0.303},
      {"sample": "z=10cm", "theta": 250, "su": 0.307},
      {"sample": "z=10cm", "theta": 255, "su": 0.31},
      {"sample": "z=10cm", "theta": 260, "su": 0.308},
      {"sample": "z=10cm", "theta": 265, "su": 0.305},
      {"sample": "z=10cm", "theta": 270, "su": 0.304},
      {"sample": "z=10cm", "theta": 275, "su": 0.3},
      {"sample": "z=10cm", "theta": 280, "su": 0.297},
      {"sample": "z=10cm", "theta": 285, "su": 0.295},
      {"sample": "z=10cm", "theta": 290, "su": 0.3},
      {"sample": "z=10cm", "theta": 295, "su": 0.305},
      {"sample": "z=10cm", "theta": 300, "su": 0.31},
      {"sample": "z=10cm", "theta": 305, "su": 0.315},
      {"sample": "z=10cm", "theta": 310, "su": 0.319},
      {"sample": "z=10cm", "theta": 315, "su": 0.322},
      {"sample": "z=10cm", "theta": 320, "su": 0.32},
      {"sample": "z=10cm", "theta": 325, "su": 0.319},
      {"sample": "z=10cm", "theta": 330, "su": 0.318},
      {"sample": "z=10cm", "theta": 335, "su": 0.318},
      {"sample": "z=10cm", "theta": 340, "su": 0.317},
      {"sample": "z=10cm", "theta": 345, "su": 0.317},
      {"sample": "z=10cm", "theta": 350, "su": 0.312},
      {"sample": "z=10cm", "theta": 355, "su": 0.309},
      {"sample": "z=10cm", "theta": 360, "su": 0.306}
    ]
  },
  "hconcat": [
    {
      "width": 1568,
      "height": 1308,
      "data": {"name": "curvesA"},
      "title": {"text": "(a)", "orient": "bottom", "frame": "bounds", "dx": -30, "offset": 92, "font": "Liberation Serif", "fontSize": 78, "fontWeight": "normal", "color": "black"},
      "layer": [
        {
          "mark": {"type": "line", "strokeWidth": 6, "strokeJoin": "round"},
          "encoding": {
            "x": {
              "field": "theta", "type": "quantitative",
              "scale": {"domain": [0, 360], "nice": false},
              "axis": {
                "title": "θ (deg)",
                "values": [0, 30, 60, 90, 120, 150, 180, 210, 240, 270, 300, 330, 360],
                "labelExpr": "datum.value % 60 === 0 ? datum.label : ''",
                "tickSize": {"condition": {"test": "datum.value % 60 !== 0", "value": 12}, "value": 25},
                "labelPadding": 18,
                "titlePadding": 44
              }
            },
            "y": {
              "field": "su", "type": "quantitative",
              "scale": {"domain": [0, 2.5], "nice": false, "range": [1308, 44]},
              "axis": {
                "title": "Sᵤ (kPa)",
                "values": [0, 0.25, 0.5, 0.75, 1, 1.25, 1.5, 1.75, 2, 2.25, 2.5],
                "format": ".1f",
                "labelExpr": "datum.value % 0.5 === 0 ? datum.label : ''",
                "tickSize": {"condition": {"test": "datum.value % 0.5 !== 0", "value": 12}, "value": 25},
                "labelPadding": 16,
                "titlePadding": 42
              }
            },
            "color": {
              "field": "sample", "type": "nominal",
              "scale": {
                "domain": ["Columnar soil sample", "z=5cm", "z=10cm", "z=15cm"],
                "range": ["#777777", "#fe3f3f", "#0b6fdf", "#00ad5f"]
              },
              "legend": {
                "legendX": 453,
                "legendY": 284,
                "encode": {
                  "symbols": {
                    "update": {
                      "shape": {"signal": "datum.value === 'Columnar soil sample' ? 'M-6,0H6M-0.75,-0.75H0.75V0.75H-0.75Z' : datum.value === 'z=5cm' ? 'M-6,0H-0.75M0.75,0H6M-0.75,0A0.75,0.75,0,1,1,0.75,0A0.75,0.75,0,1,1,-0.75,0Z' : datum.value === 'z=10cm' ? 'M-6,0H6M-1,0L0,-1.15L1,0L0,1.15Z' : 'M-6,0H-0.52M0.52,0H6M-0.95,-0.8H0.95L0,0.95Z'"},
                      "fill": {"signal": "datum.value === 'Columnar soil sample' ? '#777777' : datum.value === 'z=10cm' ? '#0b6fdf' : '#ffffff'"},
                      "stroke": {"signal": "datum.value === 'Columnar soil sample' ? '#777777' : datum.value === 'z=5cm' ? '#fe3f3f' : datum.value === 'z=10cm' ? '#0b6fdf' : '#00ad5f'"},
                      "opacity": {"value": 1},
                      "strokeWidth": {"value": 6},
                      "size": {"value": 900}
                    }
                  }
                }
              }
            }
          }
        },
        {
          "transform": [{"filter": "datum.theta % 15 === 0"}],
          "mark": {"type": "point", "strokeWidth": 3, "opacity": 1},
          "encoding": {
            "x": {"field": "theta", "type": "quantitative"},
            "y": {"field": "su", "type": "quantitative"},
            "shape": {
              "field": "sample", "type": "nominal",
              "scale": {"domain": ["Columnar soil sample", "z=5cm", "z=10cm", "z=15cm"], "range": ["square", "circle", "diamond", "triangle-down"]},
              "legend": null
            },
            "fill": {
              "field": "sample", "type": "nominal",
              "scale": {"domain": ["Columnar soil sample", "z=5cm", "z=10cm", "z=15cm"], "range": ["#777777", "#ffffff", "#0b6fdf", "#ffffff"]},
              "legend": null
            },
            "stroke": {
              "field": "sample", "type": "nominal",
              "scale": {"domain": ["Columnar soil sample", "z=5cm", "z=10cm", "z=15cm"], "range": ["#777777", "#fe3f3f", "#0b6fdf", "#00ad5f"]},
              "legend": null
            },
            "size": {
              "field": "sample", "type": "nominal",
              "scale": {"domain": ["Columnar soil sample", "z=5cm", "z=10cm", "z=15cm"], "range": [750, 700, 1200, 1100]},
              "legend": null
            }
          }
        }
      ]
    },
    {
      "width": 1578,
      "height": 1264,
      "data": {"name": "curvesB"},
      "title": {"text": "(b)", "orient": "bottom", "frame": "bounds", "dx": -30, "offset": 140, "font": "Liberation Serif", "fontSize": 78, "fontWeight": "normal", "color": "black"},
      "layer": [
        {
          "mark": {"type": "line", "strokeWidth": 6, "strokeJoin": "round"},
          "encoding": {
            "x": {
              "field": "theta", "type": "quantitative",
              "scale": {"domain": [0, 360], "nice": false},
              "axis": {
                "title": "θ (deg)",
                "values": [0, 30, 60, 90, 120, 150, 180, 210, 240, 270, 300, 330, 360],
                "labelExpr": "datum.value % 60 === 0 ? datum.label : ''",
                "tickSize": {"condition": {"test": "datum.value % 60 !== 0", "value": 12}, "value": 25},
                "labelPadding": 18,
                "titlePadding": 44
              }
            },
            "y": {
              "field": "su", "type": "quantitative",
              "scale": {"domain": [0, 1.2], "nice": false},
              "axis": {
                "title": "Sᵤ (kPa)",
                "values": [0, 0.1, 0.2, 0.3, 0.4, 0.5, 0.6, 0.7, 0.8, 0.9, 1, 1.1, 1.2],
                "format": ".1f",
                "labelExpr": "round(datum.value * 10) % 2 === 0 ? datum.label : ''",
                "tickSize": {"condition": {"test": "round(datum.value * 10) % 2 !== 0", "value": 12}, "value": 25},
                "labelPadding": 16,
                "titlePadding": 42
              }
            },
            "color": {
              "field": "sample", "type": "nominal",
              "scale": {
                "domain": ["Columnar soil sample", "z=5cm", "z=10cm"],
                "range": ["#777777", "#fe3f3f", "#0b6fdf"]
              },
              "legend": {
                "legendX": 499,
                "legendY": 250,
                "encode": {
                  "symbols": {
                    "update": {
                      "shape": {"signal": "datum.value === 'Columnar soil sample' ? 'M-6,0H6M-0.75,-0.75H0.75V0.75H-0.75Z' : datum.value === 'z=5cm' ? 'M-6,0H-0.75M0.75,0H6M-0.75,0A0.75,0.75,0,1,1,0.75,0A0.75,0.75,0,1,1,-0.75,0Z' : 'M-6,0H6M-1,0L0,-1.15L1,0L0,1.15Z'"},
                      "fill": {"signal": "datum.value === 'Columnar soil sample' ? '#777777' : datum.value === 'z=10cm' ? '#0b6fdf' : '#ffffff'"},
                      "stroke": {"signal": "datum.value === 'Columnar soil sample' ? '#777777' : datum.value === 'z=5cm' ? '#fe3f3f' : '#0b6fdf'"},
                      "opacity": {"value": 1},
                      "strokeWidth": {"value": 6},
                      "size": {"value": 900}
                    }
                  }
                }
              }
            }
          }
        },
        {
          "transform": [{"filter": "datum.theta % 15 === 0"}],
          "mark": {"type": "point", "strokeWidth": 3, "opacity": 1},
          "encoding": {
            "x": {"field": "theta", "type": "quantitative"},
            "y": {"field": "su", "type": "quantitative"},
            "shape": {
              "field": "sample", "type": "nominal",
              "scale": {"domain": ["Columnar soil sample", "z=5cm", "z=10cm", "z=15cm"], "range": ["square", "circle", "diamond", "triangle-down"]},
              "legend": null
            },
            "fill": {
              "field": "sample", "type": "nominal",
              "scale": {"domain": ["Columnar soil sample", "z=5cm", "z=10cm", "z=15cm"], "range": ["#777777", "#ffffff", "#0b6fdf", "#ffffff"]},
              "legend": null
            },
            "stroke": {
              "field": "sample", "type": "nominal",
              "scale": {"domain": ["Columnar soil sample", "z=5cm", "z=10cm", "z=15cm"], "range": ["#777777", "#fe3f3f", "#0b6fdf", "#00ad5f"]},
              "legend": null
            },
            "size": {
              "field": "sample", "type": "nominal",
              "scale": {"domain": ["Columnar soil sample", "z=5cm", "z=10cm", "z=15cm"], "range": [750, 700, 1200, 1100]},
              "legend": null
            }
          }
        }
      ]
    }
  ],
  "resolve": {"scale": {"color": "independent"}}
}
